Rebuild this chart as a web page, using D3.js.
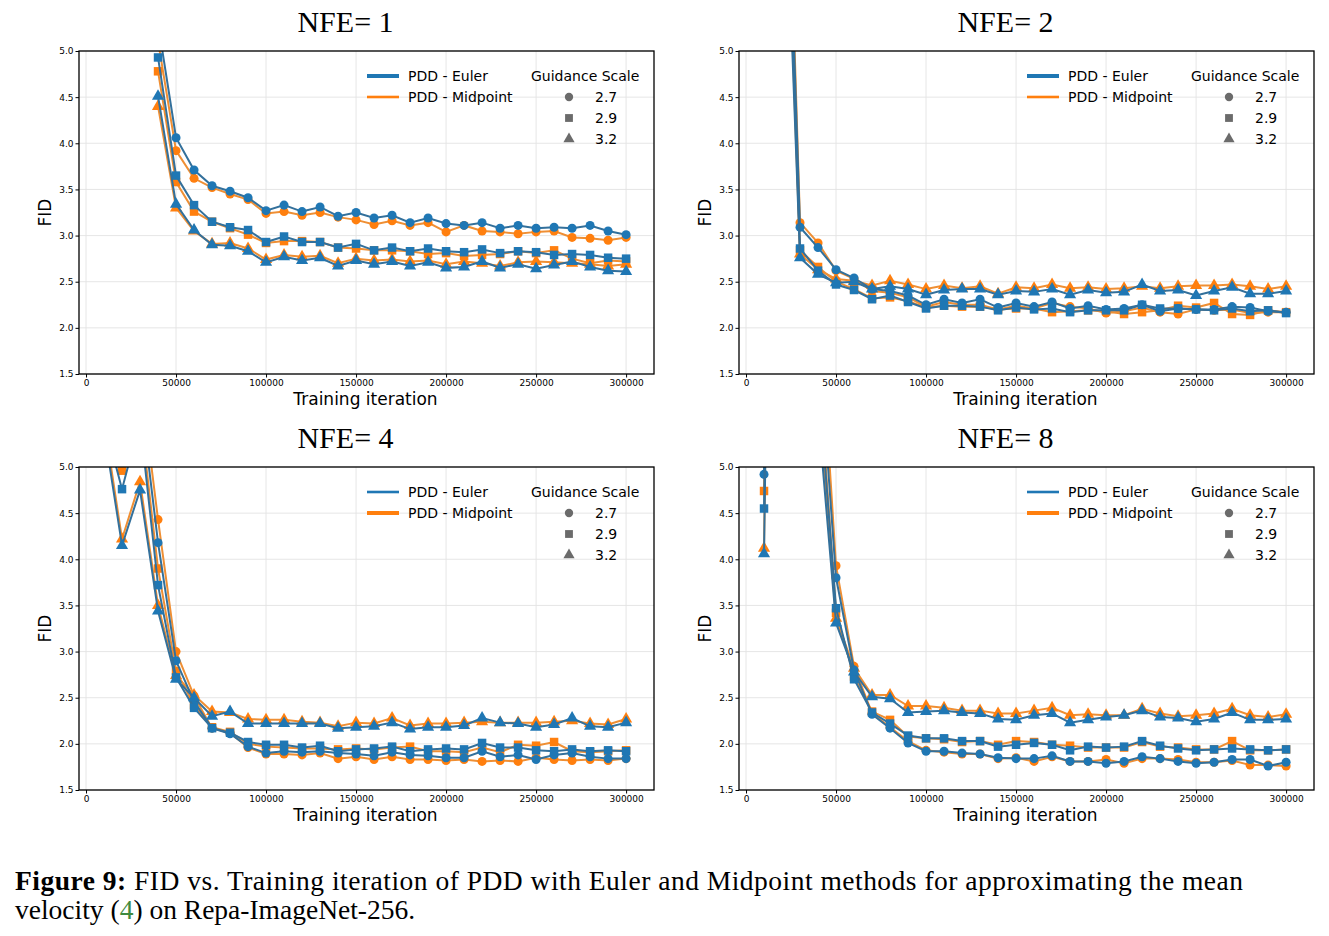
<!DOCTYPE html>
<html>
<head>
<meta charset="utf-8">
<script src="https://cdn.jsdelivr.net/npm/d3@7"></script>
<style>
  body { margin: 0; background: #fff; }
  .axis text { font-family: "DejaVu Sans", sans-serif; font-size: 9px; fill: #000; }
  .axis path, .axis line { stroke: #000; }
  .label { font-family: "DejaVu Sans", sans-serif; font-size: 17px; }
  .title { font-family: "Liberation Serif", serif; font-size: 30px; }
  .legend text { font-family: "DejaVu Sans", sans-serif; font-size: 14px; }
  .caption { font-family: "Liberation Serif", serif; font-size: 27.5px; }
</style>
</head>
<body>
<svg id="fig"></svg>
<script>
// ---- data ----
const xTicks = [0, 50000, 100000, 150000, 200000, 250000, 300000];
const yTicks = [1.5, 2.0, 2.5, 3.0, 3.5, 4.0, 4.5, 5.0];
const guidance = ['2.7', '2.9', '3.2'];

const iters1 = d3.range(40000, 300001, 10000);
const iters2 = d3.range(20000, 300001, 10000);
const iters4 = d3.range(10000, 300001, 10000);
const iters8 = d3.range(10000, 300001, 10000);

// NFE = 1
const nfe1Euler27 = [5.30, 4.06, 3.71, 3.54, 3.48, 3.41, 3.27, 3.33, 3.26, 3.31, 3.21, 3.25, 3.19, 3.22, 3.14, 3.19, 3.13, 3.11, 3.14, 3.08, 3.11, 3.08, 3.09, 3.08, 3.11, 3.05, 3.01];
const nfe1Euler29 = [4.93, 3.65, 3.33, 3.15, 3.09, 3.06, 2.93, 2.99, 2.93, 2.93, 2.87, 2.91, 2.84, 2.87, 2.83, 2.86, 2.83, 2.82, 2.85, 2.81, 2.83, 2.82, 2.79, 2.80, 2.79, 2.76, 2.75];
const nfe1Euler32 = [4.51, 3.34, 3.06, 2.90, 2.89, 2.83, 2.71, 2.77, 2.73, 2.76, 2.67, 2.73, 2.69, 2.72, 2.67, 2.71, 2.65, 2.66, 2.72, 2.65, 2.69, 2.64, 2.68, 2.72, 2.66, 2.62, 2.61];
const nfe1Mid27 = [5.11, 3.92, 3.62, 3.52, 3.45, 3.39, 3.24, 3.26, 3.22, 3.25, 3.20, 3.17, 3.12, 3.16, 3.11, 3.14, 3.04, 3.11, 3.05, 3.04, 3.02, 3.04, 3.05, 2.98, 2.97, 2.95, 2.98];
const nfe1Mid29 = [4.78, 3.58, 3.26, 3.15, 3.08, 3.01, 2.92, 2.94, 2.94, 2.93, 2.87, 2.86, 2.84, 2.84, 2.83, 2.80, 2.81, 2.78, 2.79, 2.80, 2.83, 2.81, 2.84, 2.75, 2.70, 2.73, 2.72];
const nfe1Mid32 = [4.40, 3.30, 3.05, 2.91, 2.92, 2.86, 2.74, 2.79, 2.77, 2.78, 2.70, 2.75, 2.73, 2.74, 2.72, 2.73, 2.69, 2.72, 2.70, 2.67, 2.71, 2.72, 2.71, 2.70, 2.69, 2.67, 2.69];

// NFE = 2
const nfe2Euler27 = [9.0, 3.09, 2.87, 2.63, 2.54, 2.42, 2.40, 2.35, 2.25, 2.31, 2.27, 2.31, 2.22, 2.27, 2.23, 2.28, 2.21, 2.24, 2.20, 2.21, 2.25, 2.18, 2.21, 2.20, 2.20, 2.23, 2.22, 2.18, 2.17];
const nfe2Euler29 = [8.6, 2.86, 2.62, 2.47, 2.41, 2.31, 2.35, 2.28, 2.21, 2.24, 2.24, 2.23, 2.19, 2.22, 2.20, 2.21, 2.17, 2.19, 2.19, 2.19, 2.25, 2.21, 2.21, 2.20, 2.19, 2.21, 2.18, 2.19, 2.16];
const nfe2Euler32 = [8.0, 2.76, 2.58, 2.49, 2.50, 2.42, 2.45, 2.42, 2.36, 2.41, 2.42, 2.42, 2.36, 2.40, 2.39, 2.42, 2.36, 2.41, 2.38, 2.39, 2.47, 2.40, 2.41, 2.35, 2.40, 2.44, 2.37, 2.37, 2.40];
const nfe2Mid27 = [9.4, 3.14, 2.92, 2.62, 2.53, 2.40, 2.38, 2.33, 2.23, 2.28, 2.25, 2.25, 2.20, 2.24, 2.21, 2.27, 2.23, 2.21, 2.16, 2.18, 2.22, 2.17, 2.15, 2.20, 2.19, 2.20, 2.16, 2.17, 2.17];
const nfe2Mid29 = [8.8, 2.84, 2.66, 2.50, 2.42, 2.32, 2.33, 2.29, 2.22, 2.24, 2.23, 2.23, 2.20, 2.21, 2.21, 2.17, 2.18, 2.19, 2.18, 2.15, 2.17, 2.19, 2.24, 2.22, 2.27, 2.15, 2.14, 2.19, 2.17];
const nfe2Mid32 = [8.3, 2.80, 2.63, 2.53, 2.51, 2.46, 2.51, 2.47, 2.42, 2.46, 2.43, 2.45, 2.37, 2.44, 2.43, 2.47, 2.43, 2.44, 2.42, 2.43, 2.45, 2.43, 2.45, 2.46, 2.46, 2.47, 2.45, 2.42, 2.45];

// NFE = 4
const nfe4Euler27 = [6.0, 5.4, 5.8, 4.18, 2.90, 2.46, 2.17, 2.11, 1.97, 1.90, 1.92, 1.91, 1.92, 1.90, 1.89, 1.87, 1.91, 1.88, 1.87, 1.85, 1.85, 1.92, 1.86, 1.88, 1.83, 1.88, 1.90, 1.86, 1.84, 1.84];
const nfe4Euler29 = [5.5, 4.76, 5.5, 3.72, 2.72, 2.39, 2.17, 2.12, 2.02, 1.99, 1.99, 1.96, 1.98, 1.92, 1.94, 1.95, 1.97, 1.92, 1.94, 1.95, 1.94, 2.01, 1.96, 1.96, 1.93, 1.92, 1.94, 1.92, 1.93, 1.92];
const nfe4Euler32 = [5.4, 4.15, 4.75, 3.44, 2.70, 2.50, 2.30, 2.35, 2.22, 2.22, 2.22, 2.22, 2.22, 2.17, 2.18, 2.19, 2.23, 2.16, 2.18, 2.18, 2.20, 2.28, 2.23, 2.22, 2.18, 2.21, 2.28, 2.19, 2.18, 2.23];
const nfe4Mid27 = [6.1, 5.5, 6.0, 4.43, 3.00, 2.52, 2.17, 2.12, 1.96, 1.89, 1.89, 1.88, 1.90, 1.84, 1.86, 1.83, 1.86, 1.83, 1.83, 1.82, 1.83, 1.81, 1.82, 1.81, 1.85, 1.83, 1.82, 1.83, 1.82, 1.84];
const nfe4Mid29 = [5.6, 4.96, 5.6, 3.90, 2.79, 2.42, 2.18, 2.13, 2.00, 1.97, 1.96, 1.95, 1.95, 1.94, 1.95, 1.94, 1.96, 1.97, 1.92, 1.92, 1.91, 1.96, 1.91, 1.99, 1.98, 2.02, 1.92, 1.91, 1.92, 1.93];
const nfe4Mid32 = [5.5, 4.22, 4.84, 3.50, 2.74, 2.53, 2.35, 2.34, 2.27, 2.26, 2.26, 2.24, 2.23, 2.19, 2.23, 2.22, 2.28, 2.20, 2.22, 2.22, 2.23, 2.24, 2.23, 2.23, 2.23, 2.24, 2.25, 2.22, 2.21, 2.27];

// NFE = 8
const nfe8Euler27 = [4.92, 20, 12, 6.5, 3.80, 2.80, 2.32, 2.17, 2.01, 1.92, 1.92, 1.90, 1.89, 1.85, 1.84, 1.84, 1.87, 1.81, 1.81, 1.79, 1.81, 1.86, 1.84, 1.81, 1.79, 1.80, 1.83, 1.83, 1.76, 1.80];
const nfe8Euler29 = [4.55, 19, 11, 6.0, 3.47, 2.70, 2.34, 2.22, 2.09, 2.06, 2.06, 2.03, 2.03, 1.97, 1.99, 2.01, 1.99, 1.93, 1.97, 1.96, 1.97, 2.03, 1.98, 1.95, 1.93, 1.94, 1.95, 1.94, 1.93, 1.94];
const nfe8Euler32 = [4.06, 18, 10, 5.6, 3.31, 2.78, 2.51, 2.49, 2.34, 2.35, 2.36, 2.34, 2.33, 2.27, 2.26, 2.31, 2.33, 2.23, 2.26, 2.29, 2.31, 2.36, 2.29, 2.28, 2.24, 2.27, 2.34, 2.26, 2.26, 2.27];
const nfe8Mid27 = [5.15, 21, 13, 7.0, 3.93, 2.84, 2.33, 2.18, 2.03, 1.93, 1.91, 1.89, 1.89, 1.84, 1.85, 1.81, 1.86, 1.81, 1.81, 1.83, 1.79, 1.84, 1.84, 1.83, 1.80, 1.80, 1.82, 1.77, 1.77, 1.76];
const nfe8Mid29 = [4.74, 20, 12, 6.2, 3.42, 2.73, 2.35, 2.26, 2.08, 2.06, 2.05, 2.02, 2.03, 1.99, 2.03, 2.02, 1.99, 1.98, 1.96, 1.96, 1.96, 2.02, 1.97, 1.96, 1.94, 1.94, 2.03, 1.93, 1.93, 1.94];
const nfe8Mid32 = [4.12, 19, 11, 5.8, 3.36, 2.82, 2.53, 2.53, 2.41, 2.41, 2.39, 2.36, 2.36, 2.33, 2.33, 2.36, 2.39, 2.31, 2.32, 2.31, 2.31, 2.38, 2.33, 2.30, 2.31, 2.33, 2.38, 2.31, 2.29, 2.32];

// ---- layout ----
const w = 1329, h = 936;
const pw = 575, ph = 323;

const colors = { euler: '#1f77b4', mid: '#ff7f0e' };
const lineColors = { euler: '#33709b', mid: '#ef8f34' };
const shapes = { '2.7': d3.symbolCircle, '2.9': d3.symbolSquare, '3.2': d3.symbolTriangle };
const shapeSize = { '2.7': 64, '2.9': 72, '3.2': 64 };

const panels = [
  { title: 'NFE= 1', left: 79, top: 51, iters: iters1, thick: 'euler',
    euler: [nfe1Euler27, nfe1Euler29, nfe1Euler32], mid: [nfe1Mid27, nfe1Mid29, nfe1Mid32] },
  { title: 'NFE= 2', left: 739, top: 51, iters: iters2, thick: 'euler',
    euler: [nfe2Euler27, nfe2Euler29, nfe2Euler32], mid: [nfe2Mid27, nfe2Mid29, nfe2Mid32] },
  { title: 'NFE= 4', left: 79, top: 467, iters: iters4, thick: 'mid',
    euler: [nfe4Euler27, nfe4Euler29, nfe4Euler32], mid: [nfe4Mid27, nfe4Mid29, nfe4Mid32] },
  { title: 'NFE= 8', left: 739, top: 467, iters: iters8, thick: 'mid',
    euler: [nfe8Euler27, nfe8Euler29, nfe8Euler32], mid: [nfe8Mid27, nfe8Mid29, nfe8Mid32] }
];

const svg = d3.select('#fig').attr('width', w).attr('height', h);

panels.forEach((p, pi) => {
  const g = svg.append('g').attr('transform', `translate(${p.left}, ${p.top})`);

  const xScale = d3.scaleLinear().domain([-3900, 315500]).range([0, pw]);
  const yScale = d3.scaleLinear().domain([1.5, 5.0]).range([ph, 0]);

  // clip
  g.append('clipPath').attr('id', 'clip' + pi)
    .append('rect').attr('width', pw).attr('height', ph);

  // grid
  g.append('g').selectAll('line').data(xTicks).join('line')
    .attr('x1', d => xScale(d)).attr('x2', d => xScale(d))
    .attr('y1', 0).attr('y2', ph)
    .style('stroke', '#e3e3e3').style('stroke-width', 0.9);
  g.append('g').selectAll('line').data(yTicks).join('line')
    .attr('x1', 0).attr('x2', pw)
    .attr('y1', d => yScale(d)).attr('y2', d => yScale(d))
    .style('stroke', '#e3e3e3').style('stroke-width', 0.9);

  // series: midpoint under euler
  const plot = g.append('g').attr('clip-path', `url(#clip${pi})`);
  ['mid', 'euler'].forEach(method => {
    guidance.forEach((gs, k) => {
      const pts = p.iters.map((it, i) => ({ x: it, y: p[method][k][i] }));
      plot.append('path')
        .datum(pts)
        .attr('d', d3.line().x(d => xScale(d.x)).y(d => yScale(d.y)))
        .style('fill', 'none')
        .style('stroke', lineColors[method])
        .style('stroke-width', 2);
      plot.selectAll(null).data(pts).join('path')
        .attr('transform', d => `translate(${xScale(d.x)}, ${yScale(d.y)})`)
        .attr('d', d3.symbol().type(shapes[gs]).size(shapeSize[gs]))
        .style('fill', colors[method]);
    });
  });

  // axes
  g.append('g').attr('class', 'axis')
    .attr('transform', `translate(0, ${ph})`)
    .call(d3.axisBottom(xScale).tickValues(xTicks).tickFormat(d3.format('d')).tickSizeOuter(0).tickSize(3.5).tickPadding(2));
  g.append('g').attr('class', 'axis')
    .call(d3.axisLeft(yScale).tickValues(yTicks).tickFormat(d3.format('.1f')).tickSizeOuter(0).tickSize(3.5).tickPadding(2));
  g.selectAll('.axis .domain').remove();

  // frame
  g.append('rect').attr('width', pw).attr('height', ph)
    .style('fill', 'none').style('stroke', '#000').style('stroke-width', 1.3);

  // labels
  g.append('text').attr('class', 'label')
    .attr('transform', `translate(${pw / 2 - 1}, ${ph + 31})`)
    .attr('text-anchor', 'middle')
    .text('Training iteration');
  g.append('text').attr('class', 'label')
    .attr('transform', `translate(${-28}, ${ph / 2}) rotate(-90)`)
    .attr('text-anchor', 'middle')
    .text('FID');
  g.append('text').attr('class', 'title')
    .attr('x', pw / 2 - 21).attr('y', -19)
    .attr('text-anchor', 'middle')
    .text(p.title);

  // legend
  const lg = g.append('g').attr('class', 'legend');
  [['euler', 'PDD - Euler'], ['mid', 'PDD - Midpoint']].forEach(([m, name], i) => {
    const yy = 25 + i * 21;
    lg.append('line')
      .attr('x1', 288).attr('x2', 320).attr('y1', yy).attr('y2', yy)
      .style('stroke', colors[m])
      .style('stroke-width', p.thick === m ? 4 : 2.6);
    lg.append('text').attr('x', 329).attr('y', yy + 5).text(name);
  });
  lg.append('text').attr('x', 452).attr('y', 30).text('Guidance Scale');
  guidance.forEach((gs, i) => {
    const yy = 46 + i * 21;
    lg.append('path')
      .attr('transform', `translate(490, ${yy})`)
      .attr('d', d3.symbol().type(shapes[gs]).size(shapeSize[gs] * 0.85))
      .style('fill', '#6b6b6b');
    lg.append('text').attr('x', 516).attr('y', yy + 5).text(gs);
  });
});

// caption
const cap1 = svg.append('text').attr('class', 'caption').attr('x', 15).attr('y', 890)
  .attr('textLength', 1228).attr('lengthAdjust', 'spacing');
cap1.append('tspan').style('font-weight', 'bold').text('Figure 9:');
cap1.append('tspan').text(' FID vs. Training iteration of PDD with Euler and Midpoint methods for approximating the mean');
const cap2 = svg.append('text').attr('class', 'caption').attr('x', 15).attr('y', 919);
cap2.append('tspan').text('velocity (');
cap2.append('tspan').style('fill', '#3f8a3f').text('4');
cap2.append('tspan').text(') on Repa-ImageNet-256.');
</script>
</body>
</html>
